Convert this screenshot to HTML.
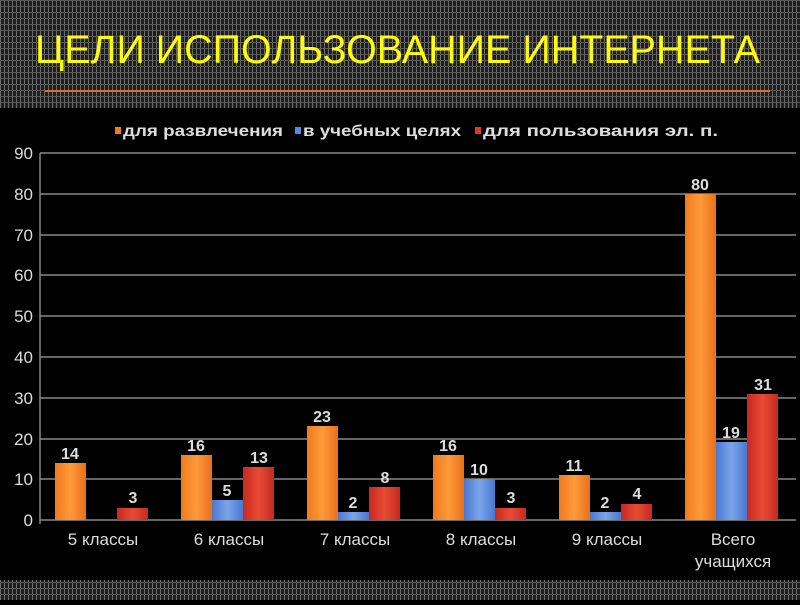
<!DOCTYPE html>
<html><head><meta charset="utf-8"><style>
body{margin:0;width:800px;height:600px;overflow:hidden;background:#000;font-family:"Liberation Sans",sans-serif}
</style></head><body>
<svg width="800" height="600" xmlns="http://www.w3.org/2000/svg" font-family="Liberation Sans, sans-serif">
<defs>
<pattern id="tx" width="4" height="6" patternUnits="userSpaceOnUse">
<rect width="4" height="6" fill="#1e1e1e"/>
<rect x="0" y="0" width="1" height="6" fill="#6a6a6a"/>
<rect x="0" y="0" width="4" height="1" fill="#5a5a5a"/>
</pattern>
<linearGradient id="go" x1="0" x2="1"><stop offset="0" stop-color="#f07a1e"/><stop offset="0.5" stop-color="#ff9a3a"/><stop offset="1" stop-color="#e8701a"/></linearGradient>
<linearGradient id="gb" x1="0" x2="1"><stop offset="0" stop-color="#4a78d0"/><stop offset="0.5" stop-color="#7aa4ec"/><stop offset="1" stop-color="#4a78d0"/></linearGradient>
<linearGradient id="gr" x1="0" x2="1"><stop offset="0" stop-color="#c8281e"/><stop offset="0.5" stop-color="#e84a36"/><stop offset="1" stop-color="#c42a1e"/></linearGradient>
</defs>
<rect width="800" height="108" fill="url(#tx)"/>
<rect y="580" width="800" height="20" fill="url(#tx)"/>
<text x="35" y="63" fill="#ffff00" font-size="40" textLength="725" lengthAdjust="spacingAndGlyphs">ЦЕЛИ ИСПОЛЬЗОВАНИЕ ИНТЕРНЕТА</text>
<line x1="45" y1="91" x2="770" y2="91" stroke="#e86a2a" stroke-width="2"/>
<g font-size="16" font-weight="bold" fill="#ddd">
<rect x="115" y="127" width="6" height="7" fill="#f07a1e"/><text x="123" y="136" textLength="160" lengthAdjust="spacingAndGlyphs">для развлечения</text>
<rect x="295" y="127" width="6" height="7" fill="#5a88dd"/><text x="303" y="136" textLength="158" lengthAdjust="spacingAndGlyphs">в учебных целях</text>
<rect x="475" y="127" width="6" height="7" fill="#d83a26"/><text x="483" y="136" textLength="235" lengthAdjust="spacingAndGlyphs">для пользования эл. п.</text>
</g>
<g stroke="#888" stroke-width="1.5">
<line x1="40" y1="153" x2="796" y2="153"/><line x1="40" y1="194" x2="796" y2="194"/><line x1="40" y1="235" x2="796" y2="235"/><line x1="40" y1="275" x2="796" y2="275"/><line x1="40" y1="316" x2="796" y2="316"/><line x1="40" y1="357" x2="796" y2="357"/><line x1="40" y1="398" x2="796" y2="398"/><line x1="40" y1="439" x2="796" y2="439"/><line x1="40" y1="479" x2="796" y2="479"/><line x1="40" y1="520" x2="796" y2="520"/>
<line x1="40" y1="153" x2="40" y2="524"/>
</g>
<g font-size="17" fill="#ddd" text-anchor="end">
<text x="33" y="159">90</text><text x="33" y="200">80</text><text x="33" y="241">70</text><text x="33" y="281">60</text><text x="33" y="322">50</text><text x="33" y="363">40</text><text x="33" y="404">30</text><text x="33" y="445">20</text><text x="33" y="485">10</text><text x="33" y="526">0</text>
</g>
<g font-size="17" fill="#ddd" text-anchor="middle">
<text x="103" y="545">5 классы</text><text x="229" y="545">6 классы</text><text x="355" y="545">7 классы</text><text x="481" y="545">8 классы</text><text x="607" y="545">9 классы</text><text x="733" y="545">Всего</text><text x="733" y="567">учащихся</text>
</g>
<g font-size="16" font-weight="bold" fill="#ddd" text-anchor="middle">
<rect x="55" y="463" width="31" height="57" fill="url(#go)"/><text x="70" y="459">14</text>
<rect x="117" y="508" width="31" height="12" fill="url(#gr)"/><text x="133" y="503">3</text>
<rect x="181" y="455" width="31" height="65" fill="url(#go)"/><text x="196" y="451">16</text>
<rect x="212" y="500" width="31" height="20" fill="url(#gb)"/><text x="227" y="496">5</text>
<rect x="243" y="467" width="31" height="53" fill="url(#gr)"/><text x="259" y="463">13</text>
<rect x="307" y="426" width="31" height="94" fill="url(#go)"/><text x="322" y="422">23</text>
<rect x="338" y="512" width="31" height="8" fill="url(#gb)"/><text x="353" y="508">2</text>
<rect x="369" y="487" width="31" height="33" fill="url(#gr)"/><text x="385" y="483">8</text>
<rect x="433" y="455" width="31" height="65" fill="url(#go)"/><text x="448" y="451">16</text>
<rect x="464" y="479" width="31" height="41" fill="url(#gb)"/><text x="479" y="475">10</text>
<rect x="495" y="508" width="31" height="12" fill="url(#gr)"/><text x="511" y="503">3</text>
<rect x="559" y="475" width="31" height="45" fill="url(#go)"/><text x="574" y="471">11</text>
<rect x="590" y="512" width="31" height="8" fill="url(#gb)"/><text x="605" y="508">2</text>
<rect x="621" y="504" width="31" height="16" fill="url(#gr)"/><text x="637" y="499">4</text>
<rect x="685" y="194" width="31" height="326" fill="url(#go)"/><text x="700" y="190">80</text>
<rect x="716" y="442" width="31" height="78" fill="url(#gb)"/><text x="731" y="438">19</text>
<rect x="747" y="394" width="31" height="126" fill="url(#gr)"/><text x="763" y="390">31</text>
</g>
</svg>
</body></html>
